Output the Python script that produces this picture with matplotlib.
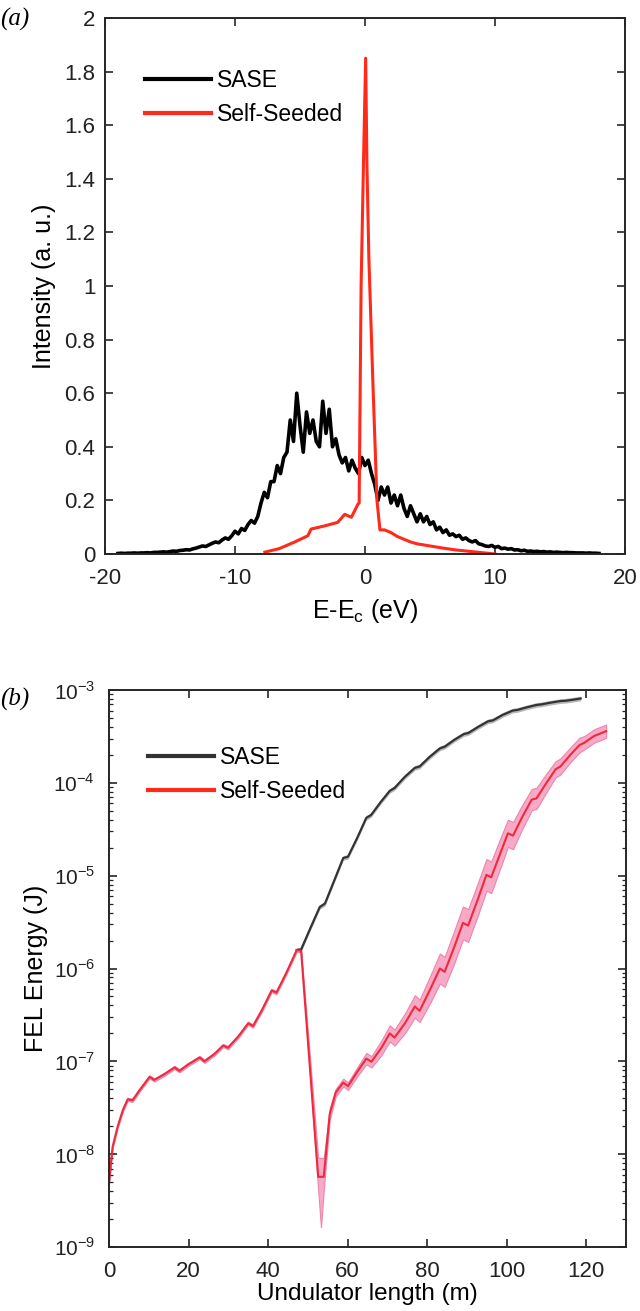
import numpy as np
import matplotlib
matplotlib.use("Agg")
import matplotlib.pyplot as plt
from matplotlib.ticker import LogLocator, NullFormatter, FixedLocator

plt.rcParams['font.family'] = ['Liberation Sans', 'DejaVu Sans']
plt.rcParams['mathtext.fontset'] = 'custom'
plt.rcParams['mathtext.rm'] = 'Liberation Sans'
plt.rcParams['axes.unicode_minus'] = False

# ---- panel (a): spectra ----
# SASE spectrum sampled every 0.25 eV from -19 to 18 eV (one row per eV)
sase_e = np.arange(-19, 18.01, 0.25)
sase_i = [
    0.002, 0.003, 0.002, 0.003,   # -19
    0.003, 0.004, 0.003, 0.004,   # -18
    0.004, 0.005, 0.004, 0.006,   # -17
    0.006, 0.007, 0.008, 0.007,   # -16
    0.009, 0.011, 0.010, 0.013,   # -15
    0.014, 0.016, 0.015, 0.019,   # -14
    0.022, 0.026, 0.030, 0.028,   # -13
    0.034, 0.040, 0.045, 0.042,   # -12
    0.052, 0.060, 0.055, 0.068,   # -11
    0.085, 0.075, 0.095, 0.088,   # -10
    0.110, 0.125, 0.115, 0.140,   # -9
    0.190, 0.230, 0.210, 0.270,   # -8
    0.270, 0.330, 0.300, 0.360,   # -7
    0.380, 0.500, 0.420, 0.600,   # -6
    0.480, 0.380, 0.530, 0.450,   # -5
    0.500, 0.420, 0.400, 0.570,   # -4
    0.450, 0.540, 0.400, 0.430,   # -3
    0.370, 0.340, 0.360, 0.310,   # -2
    0.350, 0.320, 0.300, 0.360,   # -1
    0.330, 0.350, 0.300, 0.260,   # 0
    0.200, 0.250, 0.220, 0.250,   # 1
    0.190, 0.220, 0.180, 0.220,   # 2
    0.170, 0.140, 0.180, 0.150,   # 3
    0.120, 0.150, 0.120, 0.140,   # 4
    0.110, 0.120, 0.090, 0.100,   # 5
    0.080, 0.090, 0.070, 0.075,   # 6
    0.065, 0.070, 0.055, 0.060,   # 7
    0.050, 0.045, 0.050, 0.038,   # 8
    0.035, 0.030, 0.028, 0.032,   # 9
    0.025, 0.028, 0.020, 0.022,   # 10
    0.018, 0.020, 0.015, 0.016,   # 11
    0.012, 0.014, 0.010, 0.011,   # 12
    0.009, 0.010, 0.008, 0.009,   # 13
    0.007, 0.008, 0.006, 0.007,   # 14
    0.006, 0.005, 0.006, 0.005,   # 15
    0.005, 0.004, 0.004, 0.004,   # 16
    0.003, 0.004, 0.003, 0.003,   # 17
    0.002,                        # 18
]

seed_e = [-7.7, -6.6, -5.4, -4.4, -4.15, -3.1, -2.1, -1.56, -1.05, -0.54, -0.45,
          -0.3, -0.1, 0.05, 0.15, 0.3, 0.6, 0.92, 1.15, 1.5, 2.0, 2.5, 3.0, 3.5,
          4.0, 5.0, 6.0, 7.0, 8.0, 9.0, 10.0]
seed_i = [0.007, 0.02, 0.045, 0.068, 0.093, 0.105, 0.118, 0.148, 0.137, 0.186, 0.19,
          1.0, 1.5, 1.85, 1.45, 1.1, 0.65, 0.2, 0.09, 0.09, 0.08, 0.065, 0.055, 0.045,
          0.038, 0.03, 0.022, 0.015, 0.01, 0.005, 0.0]

# ---- panel (b): gain curves ----
ss_z = [0, 0.9, 2.2, 3.5, 4.7, 5.9, 7.7, 10.2, 11.4, 14.0, 16.5, 17.7, 20.0,
        22.8, 24.0, 26.5, 28.7, 29.9, 32.5, 35.0, 36.2, 38.5, 40.9, 42.1, 44.6,
        47.2, 48.3, 52.6, 53.3, 54.0, 55.5, 57.0, 58.9, 60.1, 62.5, 64.7, 66.0,
        68.5, 70.6, 71.8, 74.5, 76.9, 78.1, 80.8, 83.2, 84.4, 86.8, 89.0, 90.3,
        92.7, 94.9, 96.1, 98.3, 100.3, 101.6, 103.8, 106.3, 107.5, 110.0, 112.3,
        113.5, 116.0, 118.3, 119.5, 122.0, 125.0]
ss_e = [5e-9, 1.2e-8, 2.0e-8, 3.0e-8, 3.9e-8, 3.8e-8, 4.9e-8, 6.8e-8, 6.3e-8,
        7.3e-8, 8.6e-8, 7.9e-8, 9.3e-8, 1.1e-7, 1.0e-7, 1.2e-7, 1.48e-7, 1.4e-7,
        1.85e-7, 2.57e-7, 2.4e-7, 3.6e-7, 5.8e-7, 5.5e-7, 9.0e-7, 1.58e-6, 1.55e-6,
        5.7e-9, 5.7e-9, 5.7e-9, 2.7e-8, 4.6e-8, 5.9e-8, 5.4e-8, 7.8e-8, 1.07e-7,
        9.9e-8, 1.4e-7, 2.0e-7, 1.8e-7, 2.6e-7, 3.9e-7, 3.5e-7, 6.0e-7, 1.0e-6,
        9.2e-7, 1.7e-6, 3.1e-6, 2.9e-6, 5.5e-6, 1.02e-5, 9.6e-6, 1.7e-5, 2.86e-5,
        2.7e-5, 4.2e-5, 6.6e-5, 6.8e-5, 1.0e-4, 1.4e-4, 1.5e-4, 2.0e-4, 2.55e-4,
        2.7e-4, 3.2e-4, 3.6e-4]
# multiplicative spread of the shaded band (upper / lower)
ss_hi = [1.04] * 27 + [1.6, 1.6, 1.6, 1.15, 1.1, 1.1, 1.1, 1.12, 1.15, 1.15,
                       1.2, 1.22, 1.22, 1.28, 1.32, 1.32, 1.4, 1.45, 1.45, 1.5,
                       1.5, 1.5, 1.5, 1.48, 1.48, 1.45, 1.4, 1.4, 1.35, 1.3,
                       1.3, 1.26, 1.22, 1.22, 1.2, 1.2, 1.18, 1.18, 1.18]
ss_lo = [1.04] * 27 + [1.4, 3.5, 1.4, 1.15, 1.1, 1.1, 1.1, 1.12, 1.15, 1.15,
                       1.2, 1.22, 1.22, 1.28, 1.32, 1.32, 1.4, 1.45, 1.45, 1.5,
                       1.5, 1.5, 1.5, 1.48, 1.48, 1.45, 1.4, 1.4, 1.35, 1.3,
                       1.3, 1.26, 1.22, 1.22, 1.2, 1.2, 1.18, 1.18, 1.18]

sase_z = [47.2, 48.3, 50.6, 53.0, 54.3, 56.6, 58.9, 60.1, 62.5, 64.7, 65.9, 68.3,
          70.6, 71.8, 74.3, 76.9, 78.1, 80.6, 83.2, 84.4, 86.8, 89.2, 90.4, 92.8,
          95.3, 96.5, 99.0, 101.5, 102.7, 105.0, 107.5, 108.7, 111.0, 113.5,
          114.7, 117.0, 118.6]
sase_en = [1.58e-6, 1.6e-6, 2.7e-6, 4.6e-6, 5.0e-6, 8.8e-6, 1.55e-5, 1.6e-5,
           2.6e-5, 4.2e-5, 4.5e-5, 6.2e-5, 8.2e-5, 8.8e-5, 1.15e-4, 1.45e-4,
           1.5e-4, 1.9e-4, 2.35e-4, 2.45e-4, 2.9e-4, 3.35e-4, 3.45e-4, 4.0e-4,
           4.6e-4, 4.7e-4, 5.4e-4, 6.0e-4, 6.1e-4, 6.5e-4, 6.9e-4, 7.0e-4,
           7.3e-4, 7.6e-4, 7.65e-4, 7.9e-4, 8.1e-4]
sase_spread = 1.06

RED = '#ff2a1a'
DARK = '#262626'
SERIF = ['Liberation Serif', 'DejaVu Serif']


def style_axes(ax, xpad=10, ypad=7, size=16):
    for s in ax.spines.values():
        s.set_color(DARK)
        s.set_linewidth(1.4)
    ax.tick_params(which='both', direction='in', top=True, right=True,
                   colors=DARK, labelcolor='#222222', labelsize=size)
    ax.tick_params(axis='x', pad=xpad)
    ax.tick_params(axis='y', pad=ypad)
    ax.tick_params(which='major', length=6, width=1.2)
    ax.tick_params(which='minor', length=3, width=0.9)


def main():
    fig = plt.figure(figsize=(6.4, 13.11), dpi=100)

    # panel (a)
    ax1 = fig.add_axes([105 / 640, (1311 - 554) / 1311, 520 / 640, 536 / 1311])
    ax1.plot(sase_e, sase_i, color='black', lw=2.6, label='SASE')
    ax1.plot(seed_e, seed_i, color=RED, lw=2.2, label='Self-Seeded')
    ax1.set_xlim(-20, 20)
    ax1.set_ylim(0, 2)
    ax1.set_xticks([-20, -10, 0, 10, 20])
    yt = [0, 0.2, 0.4, 0.6, 0.8, 1, 1.2, 1.4, 1.6, 1.8, 2]
    ax1.set_yticks(yt)
    ax1.set_yticklabels(['0', '0.2', '0.4', '0.6', '0.8', '1', '1.2', '1.4', '1.6', '1.8', '2'])
    style_axes(ax1)
    ax1.set_xlabel('E-E$_\\mathregular{c}$ (eV)', fontsize=18, labelpad=6)
    ax1.set_ylabel('Intensity (a. u.)', fontsize=18, labelpad=6)
    leg1 = ax1.legend(loc='upper left', bbox_to_anchor=(0.077, 0.905), frameon=False,
                      fontsize=16.5, handlelength=2.9, handletextpad=0.26, labelspacing=0.5,
                      borderaxespad=0, borderpad=0)
    for h in leg1.get_lines():
        h.set_linewidth(3)
    fig.text(0.0, 1311 - 26, '(a)', transform=None, fontsize=18, family=SERIF, style='italic')

    # panel (b)
    ax2 = fig.add_axes([109 / 640, (1311 - 1247) / 1311, 517 / 640, 557 / 1311])
    sz = np.array(sase_z)
    se = np.array(sase_en)
    ax2.fill_between(sz, se / sase_spread, se * sase_spread, color='#b8b8b8', lw=0)
    ax2.plot(sz, se, color='#333333', lw=1.6, label='SASE')

    z = np.array(ss_z)
    e = np.array(ss_e)
    ax2.fill_between(z, e / np.array(ss_lo), e * np.array(ss_hi), color='#f7aac8',
                     lw=0.8, edgecolor='#ee85aa')
    ax2.plot(z, e, color='#ee2a3c', lw=1.5, label='Self-Seeded')

    ax2.set_yscale('log')
    ax2.set_xlim(0, 130)
    ax2.set_ylim(1e-9, 1e-3)
    ax2.set_xticks([0, 20, 40, 60, 80, 100, 120])
    ax2.yaxis.set_major_locator(FixedLocator([1e-9, 1e-8, 1e-7, 1e-6, 1e-5, 1e-4, 1e-3]))
    ax2.yaxis.set_minor_locator(LogLocator(base=10, subs=np.arange(2, 10), numticks=20))
    ax2.yaxis.set_minor_formatter(NullFormatter())
    ax2.set_yticklabels(['10$^{\\mathregular{-%d}}$' % k for k in range(9, 2, -1)])
    style_axes(ax2, ypad=10, size=15)
    ax2.tick_params(axis='x', labelsize=16)
    ax2.set_xlabel('Undulator length (m)', fontsize=17.5, labelpad=1)
    ax2.set_ylabel('FEL Energy (J)', fontsize=18, labelpad=4)
    leg2 = ax2.legend(loc='upper left', bbox_to_anchor=(0.075, 0.9), frameon=False,
                      fontsize=16.5, handlelength=2.9, handletextpad=0.26, labelspacing=0.5,
                      borderaxespad=0, borderpad=0)
    for h in leg2.get_lines():
        h.set_linewidth(3)
    leg2.get_lines()[1].set_color(RED)
    fig.text(0.0, 1311 - 706, '(b)', transform=None, fontsize=18, family=SERIF, style='italic')

    fig.savefig('out.png', dpi=100)


if __name__ == "__main__":
    main()
